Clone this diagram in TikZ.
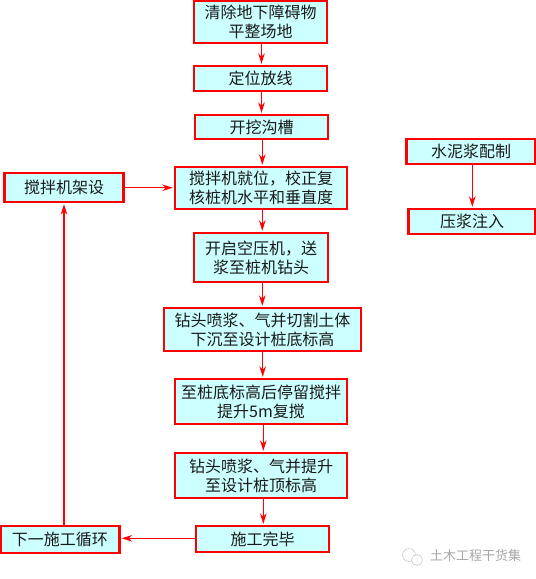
\documentclass[tikz,border=0pt]{standalone}
\usepackage{fontspec}
\setmainfont{Noto Sans CJK SC}
\usetikzlibrary{arrows.meta}
\definecolor{boxfill}{HTML}{CCFFFF}
\definecolor{boxred}{HTML}{FF0000}
\definecolor{markgray}{HTML}{A6A6A6}
\tikzset{
  flowbox/.style={draw=boxred,line width=2.3pt,fill=boxfill,inner sep=0pt,align=center,
    font=\fontsize{16}{19}\selectfont,text=black!90},
  flowarrow/.style={draw=boxred,line width=1.5pt,-{Stealth[length=10.5pt,width=6.5pt]},shorten >=1pt},
  markline/.style={draw=markgray!60,line width=0.6pt},
  marktext/.style={text=markgray,inner sep=0pt,font=\fontsize{13}{15}\selectfont}
}
\begin{document}
\begin{tikzpicture}[x=1pt,y=-1pt]
\useasboundingbox (0,0) rectangle (536,579);
\node[flowbox,minimum width=133pt,minimum height=42pt] (a) at (260.5,22) {清除地下障碍物\\平整场地};
\node[flowbox,minimum width=133pt,minimum height=25pt] (b) at (260.5,78.5) {定位放线};
\node[flowbox,minimum width=133pt,minimum height=24pt] (c) at (261.5,127) {开挖沟槽};
\node[flowbox,minimum width=172pt,minimum height=42pt] (d) at (261,188) {搅拌机就位，校正复\\核桩机水平和垂直度};
\node[flowbox,minimum width=134pt,minimum height=49pt] (e) at (261,257.5) {开启空压机，送\\浆至桩机钻头};
\node[flowbox,minimum width=197pt,minimum height=43pt] (f) at (262.5,329.5) {钻头喷浆、气并切割土体\\下沉至设计桩底标高};
\node[flowbox,minimum width=172pt,minimum height=45pt] (g) at (261,401.5) {至桩底标高后停留搅拌\\提升5m复搅};
\node[flowbox,minimum width=172pt,minimum height=45pt] (h) at (261,475.5) {钻头喷浆、气并提升\\至设计桩顶标高};
\node[flowbox,minimum width=133pt,minimum height=26pt] (i) at (262.5,539) {施工完毕};
\node[flowbox,minimum width=119pt,minimum height=27pt] (j) at (60,539.5) {下一施工循环};
\node[flowbox,minimum width=119pt,minimum height=29pt] (k) at (64,187.5) {搅拌机架设};
\node[flowbox,minimum width=129pt,minimum height=25pt] (m) at (471,151.5) {水泥浆配制};
\node[flowbox,minimum width=127pt,minimum height=25pt] (n) at (472,221.5) {压浆注入};
\draw[flowarrow] ([xshift=1pt]a.south) -- ([xshift=1pt]b.north);
\draw[flowarrow] ([xshift=1pt]b.south) -- ([xshift=0pt]c.north);
\draw[flowarrow] ([xshift=0.8pt]c.south) -- ([xshift=1.3pt]d.north);
\draw[flowarrow] ([xshift=1.3pt]d.south) -- ([xshift=1.3pt]e.north);
\draw[flowarrow] ([xshift=1.3pt]e.south) -- ([xshift=-0.2pt]f.north);
\draw[flowarrow] ([xshift=0.2pt]f.south) -- ([xshift=1.7pt]g.north);
\draw[flowarrow] ([xshift=2.3pt]g.south) -- ([xshift=2.3pt]h.north);
\draw[flowarrow] ([xshift=2.3pt]h.south) -- ([xshift=0.8pt]i.north);
\draw[flowarrow] ([yshift=0.7pt]i.west) -- ([yshift=1.2pt]j.east);
\draw[flowarrow] ([yshift=-0.2pt]k.east) -- ([yshift=0.3pt]d.west);
\draw[flowarrow] (j.north -| k.south) -- (k.south);
\draw[flowarrow] ([xshift=1.3pt]m.south) -- ([xshift=0.3pt]n.north);
% watermark
\coordinate (wa) at (409,555);
\coordinate (wb) at (417,560);
\draw[markline] (wa) circle (6.5pt);
\draw[markline,fill=white] (wb) circle (5.5pt);
\node[marktext,anchor=west] (wm) at (430,556) {土木工程干货集};
\end{tikzpicture}
\end{document}
